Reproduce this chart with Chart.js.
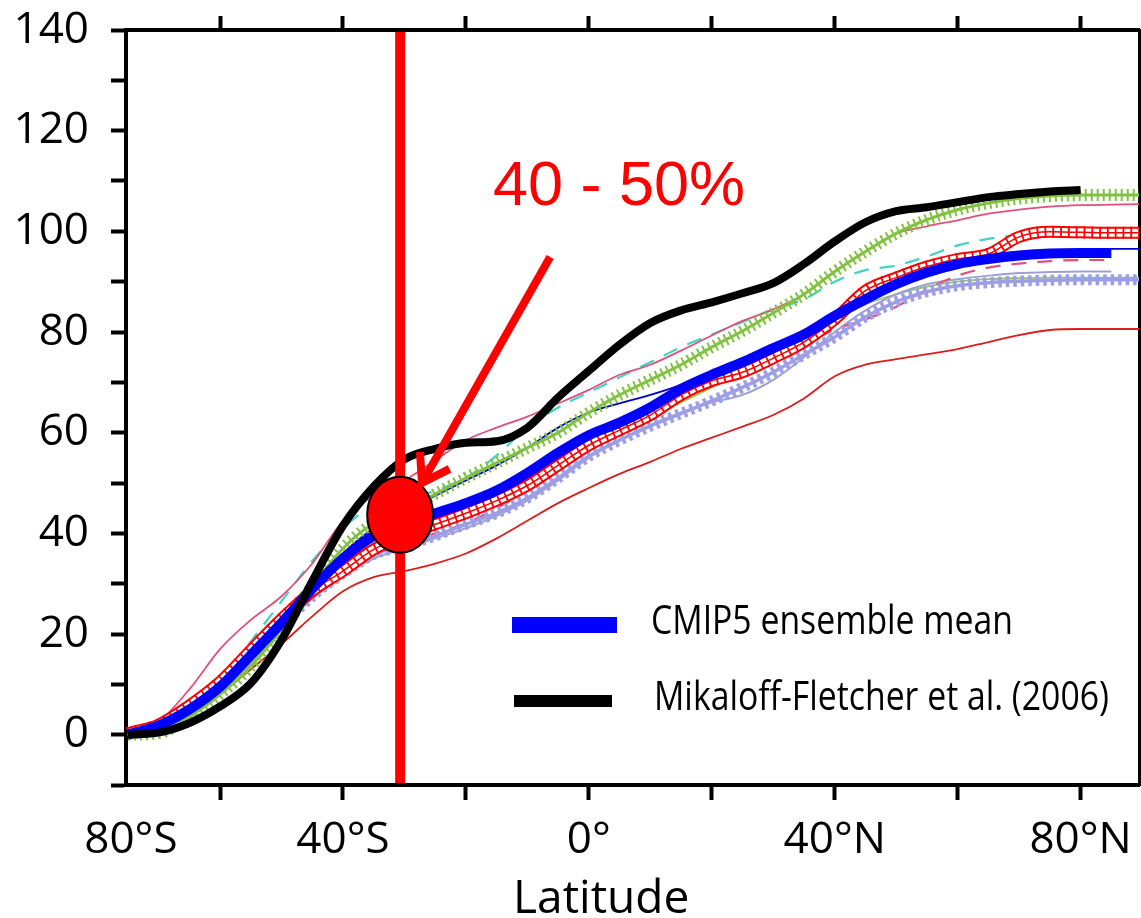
<!DOCTYPE html>
<html>
<head>
<meta charset="utf-8">
<script src="https://cdn.jsdelivr.net/npm/chart.js@4.4.1/dist/chart.umd.min.js"></script>
<style>
html,body{margin:0;padding:0;background:#fff;}
canvas{display:block;}
</style>
</head>
<body>
<canvas id="c" width="1141" height="918"></canvas>
<script>
// ---------------- data ----------------
const latitudes = [-75,-70,-65,-60,-55,-50,-45,-40,-35,-30,-25,-20,-15,-10,-5,0,5,10,15,20,25,30,35,40,45,50,55,60,65,70,75,80,85,90];

const mikaloffFletcher = [0,0.4,2.3,5.6,10.2,18.8,30.5,41.5,49.3,54.7,56.8,58,58.3,61,67,72.3,77.5,81.8,84.3,85.9,87.7,89.7,93.5,98,101.8,104,104.8,105.8,106.8,107.4,107.9,108.2,null,null];
const ensembleMean     = [0,1.8,5,9.5,15.8,22.2,29,35,39.5,42,44,46,48.5,52,56,59.5,62,65,68.7,71.5,74,76.8,79.5,83.2,86.5,89.5,91.8,93.5,94.5,95.2,95.6,95.7,95.7,null];

const modelGreenCross  = [0,0.3,3.5,8,13.5,21,29.5,37,42,44.5,47.8,51,54,57,60,64,67.5,70.5,73.5,77,80.2,83.8,87.5,92,96,99.6,102.3,104.3,105.6,106.5,107,107.2,107.2,107.2];
const modelRedSquare   = [0.3,2,5.8,10.5,16.8,23,28.5,32.5,36.8,39.5,41.8,44,46.5,49.5,53.5,57.5,60.5,63.5,67.5,70.3,72,74.8,78,82.5,88.2,90.8,93,94.5,95.5,98.9,99.9,99.8,99.7,99.7];
const modelLavenderDiamond = [0,1.2,4.5,9,15,21.5,27.5,32,35.8,37.5,39.5,41.8,44,47,51,55.3,58.5,61.3,63.8,66.3,69,72,75.5,79,83,86,88,89.2,89.8,90.1,90.3,90.4,90.4,90.4];
const modelPinkSolid   = [0.3,2.6,9,17,22.8,27.5,34,42.5,47.5,50.5,54.5,58.5,61,63.2,65.8,68.5,71.5,73.5,76.3,79.3,82.2,84.5,87.5,92,96,99.5,101,102.2,103.5,104.3,104.9,105.2,105.3,105.4];
const modelTealDashed  = [0,1,4.5,10.5,18.5,26.5,34.5,41,45.5,46.5,48.5,51,55.5,61,65,68,71,74,77,79.5,82,84.5,86.5,90,92.3,93.2,95,97.2,98.5,99.3,99.5,99.5,99.5,99.5];
const modelPinkDashed  = [0,1,5,10,16,22,27.5,32,35.5,38,40,42,45,48.5,52.5,56.5,60,63.5,66.8,69.8,72.5,75,77.5,80.5,82.5,85,88.5,91.2,92.8,93.6,94.1,94.3,94.3,null];
const modelBlueThin    = [0,1.5,5,9.5,15.5,22,29,36,41,44.5,47.5,50.5,53.5,57,61,64,65.8,67.5,69.5,72,74.3,76.5,79,83.5,87.5,90.2,92.5,94,95,95.7,96,96.3,96.5,96.5];
const modelLavenderThin= [0,1,4,8.5,14.5,21,27,31.5,35,37,39,41,43.5,46.5,50.5,55,58.5,61.5,64,66,67.5,70.5,75,80,84.3,87.5,89.5,90.5,91.2,91.7,91.9,92,92,null];
const modelGreenThin   = [0,0.5,3.5,8,14,21,28.5,34,38,40,42,44,46,49,53,57,60,63,66,69,72,75,78.5,82.5,85.5,87.5,89,90,90.5,90.7,90.8,90.8,90.8,90.8];
const modelRedThin     = [0,0.5,3.5,8,13,18,23.5,28.5,31.3,32.5,34,36,39,42.5,46,49,51.8,54.2,56.8,59,61.2,63.5,66.8,71.2,73.5,74.6,75.6,76.6,78,79.4,80.4,80.6,80.6,80.6];

// ticks
const xTickValues = [-60,-40,-20,0,20,40,60,80];
const xLabelValues = [-74.5,-40,0,40,80];
const xTickLabels = ['80°S','40°S','0°','40°N','80°N'];
const yTickStep = 10;
const yLabelStep = 20;
const xAxisTitle = 'Latitude';

// annotation
const markerLatitude = -30.7;
const markerValue = 43.7;
const arrowFrom = [-6.3, 94.9];
const arrowTo = [-27.15, 50.0];
const annotationText = '40 - 50%';
const annotationPos = [-15.6, 105.2];

const legendLabels = ['CMIP5 ensemble mean', 'Mikaloff-Fletcher et al. (2006)'];

// ---------------- chart ----------------
const X_MIN = -75.3, X_MAX = 89.5, Y_MIN = -10, Y_MAX = 140;
const FONT = "'Open Sans', 'DejaVu Sans', sans-serif";

function pts(vals){ return vals.map((v,i)=>({x:latitudes[i], y:v})); }
function line(label, vals, color, width, extra){
  return Object.assign({
    label: label, data: pts(vals), borderColor: color, borderWidth: width,
    pointRadius: 0, fill: false, cubicInterpolationMode: 'monotone', borderCapStyle: 'butt'
  }, extra || {});
}

const RED = '#ff0000', GREEN = '#82c241', LAV = '#9e9ee6';

const datasets = [
  line(legendLabels[1], mikaloffFletcher, '#000000', 8),
  line(legendLabels[0], ensembleMean, '#0000ff', 10),
  line('model A marks', modelRedSquare, RED, 12, {borderDash:[1.8,6]}),
  line('model A', modelRedSquare, RED, 1.5),
  line('model A fill', modelRedSquare, '#ffffff', 8),
  line('model A box', modelRedSquare, RED, 12),
  line('model B marks', modelGreenCross, GREEN, 12, {borderDash:[2,4]}),
  line('model B', modelGreenCross, GREEN, 3),
  line('model C marks', modelLavenderDiamond, LAV, 11, {borderDash:[3.5,4]}),
  line('model C', modelLavenderDiamond, LAV, 3.5),
  line('model D', modelPinkSolid, '#e0507c', 1.8),
  line('model E', modelTealDashed, '#3fd3c0', 2.2, {borderDash:[15,11]}),
  line('model F', modelPinkDashed, '#e0507c', 2.2, {borderDash:[15,11]}),
  line('model G', modelBlueThin, '#0000cc', 1.8),
  line('model H', modelLavenderThin, '#a0a0d0', 2),
  line('model I', modelGreenThin, '#8cc860', 1.8),
  line('model J', modelRedThin, '#dd1c1c', 1.8)
];

const annotationPlugin = {
  id: 'annotations',
  afterDraw(chart){
    const {ctx, chartArea: ca} = chart;
    const x = chart.scales.x, y = chart.scales.y;
    ctx.save();
    // vertical marker line
    const vx = x.getPixelForValue(markerLatitude);
    ctx.strokeStyle = RED; ctx.lineWidth = 10; ctx.lineCap = 'butt';
    ctx.beginPath(); ctx.moveTo(vx, ca.top + 2); ctx.lineTo(vx, ca.bottom - 2); ctx.stroke();
    // marker disc
    const cy = y.getPixelForValue(markerValue);
    ctx.beginPath(); ctx.ellipse(vx, cy, 33, 38, 0, 0, Math.PI*2);
    ctx.fillStyle = RED; ctx.fill();
    ctx.lineWidth = 2; ctx.strokeStyle = '#000'; ctx.stroke();
    // arrow
    const ax0 = x.getPixelForValue(arrowFrom[0]), ay0 = y.getPixelForValue(arrowFrom[1]);
    const ax1 = x.getPixelForValue(arrowTo[0]), ay1 = y.getPixelForValue(arrowTo[1]);
    ctx.strokeStyle = RED; ctx.lineWidth = 8;
    ctx.beginPath(); ctx.moveTo(ax0, ay0); ctx.lineTo(ax1, ay1); ctx.stroke();
    const ang = Math.atan2(ay0 - ay1, ax0 - ax1), L = 31, sp = 0.58;
    ctx.lineJoin = 'miter';
    ctx.beginPath();
    ctx.moveTo(ax1 + L*Math.cos(ang+sp), ay1 + L*Math.sin(ang+sp));
    ctx.lineTo(ax1, ay1);
    ctx.lineTo(ax1 + L*Math.cos(ang-sp), ay1 + L*Math.sin(ang-sp));
    ctx.stroke();
    // annotation text
    ctx.fillStyle = RED;
    ctx.font = "63px 'Liberation Sans', Arial, sans-serif";
    ctx.textAlign = 'left'; ctx.textBaseline = 'alphabetic';
    ctx.fillText(annotationText, x.getPixelForValue(annotationPos[0]), y.getPixelForValue(annotationPos[1]));
    // legend
    const legend = [
      {label: legendLabels[0], color: '#0000ff', lw: 16, x0: 512, x1: 617, yc: 625, tx: 651, tw: 362},
      {label: legendLabels[1], color: '#000000', lw: 12, x0: 514, x1: 612, yc: 701, tx: 654, tw: 455}
    ];
    legend.forEach(e => {
      ctx.strokeStyle = e.color; ctx.lineWidth = e.lw; ctx.lineCap = 'butt';
      ctx.beginPath(); ctx.moveTo(e.x0, e.yc); ctx.lineTo(e.x1, e.yc); ctx.stroke();
      ctx.font = "40px " + FONT;
      ctx.fillStyle = '#000'; ctx.textBaseline = 'middle'; ctx.textAlign = 'left';
      const w = ctx.measureText(e.label).width;
      ctx.save();
      ctx.translate(e.tx, e.yc - 2);
      ctx.scale(e.tw / w, 1);
      ctx.fillText(e.label, 0, 0);
      ctx.restore();
    });
    // x axis title
    ctx.fillStyle = '#000';
    ctx.font = "46px " + FONT;
    ctx.textAlign = 'center'; ctx.textBaseline = 'alphabetic';
    ctx.fillText(xAxisTitle, x.getPixelForValue(2), 913);
    ctx.restore();
  }
};

const tickFont = {family: FONT, size: 44};
function noPad(s){ s.paddingTop = 0; s.paddingBottom = 0; s.paddingLeft = 0; s.paddingRight = 0; }

new Chart(document.getElementById('c'), {
  type: 'line',
  data: {datasets: datasets},
  options: {
    responsive: false,
    animation: false,
    devicePixelRatio: 1,
    layout: {padding: 0, autoPadding: false},
    plugins: {legend: {display: false}, tooltip: {enabled: false}},
    elements: {line: {borderJoinStyle: 'round'}},
    scales: {
      x: {
        type: 'linear', position: 'bottom', min: X_MIN, max: X_MAX,
        afterBuildTicks: s => { s.ticks = [xLabelValues[0]].concat(xTickValues).map(v => ({value: v})); },
        afterFit: s => { s.height = 133; noPad(s); },
        ticks: {
          autoSkip: false, maxRotation: 0, color: '#000', font: tickFont, padding: 14,
          callback: v => { const i = xLabelValues.indexOf(v); return i >= 0 ? xTickLabels[i] : ''; }
        },
        grid: {drawOnChartArea: false, drawTicks: true, tickLength: 15, tickWidth: 4,
               tickColor: c => (c.index === 0 ? 'rgba(0,0,0,0)' : '#000')},
        border: {display: true, width: 4, color: '#000'}
      },
      xTop: {
        type: 'linear', position: 'top', min: X_MIN, max: X_MAX,
        afterBuildTicks: s => { s.ticks = xTickValues.map(v => ({value: v})); },
        afterFit: s => { s.height = 30; noPad(s); },
        ticks: {display: true, autoSkip: false, callback: () => '', font: {size: 1}, padding: 0},
        grid: {drawOnChartArea: false, drawTicks: true, tickLength: 14, tickWidth: 4, tickColor: '#000'},
        border: {display: true, width: 4, color: '#000'}
      },
      y: {
        type: 'linear', position: 'left', min: Y_MIN, max: Y_MAX,
        afterFit: s => { s.width = 126; noPad(s); },
        ticks: {stepSize: yTickStep, autoSkip: false, color: '#000', font: tickFont, padding: 22,
                callback: v => (v % yLabelStep === 0 ? String(v) : '')},
        grid: {drawOnChartArea: false, drawTicks: true, tickLength: 15, tickWidth: 4, tickColor: '#000'},
        border: {display: true, width: 4, color: '#000'}
      },
      yRight: {
        type: 'linear', position: 'right', min: Y_MIN, max: Y_MAX,
        afterFit: s => { s.width = 2; noPad(s); },
        ticks: {display: false},
        grid: {drawOnChartArea: false, drawTicks: false},
        border: {display: true, width: 3, color: '#000'}
      }
    }
  },
  plugins: [annotationPlugin]
});
</script>
</body>
</html>
